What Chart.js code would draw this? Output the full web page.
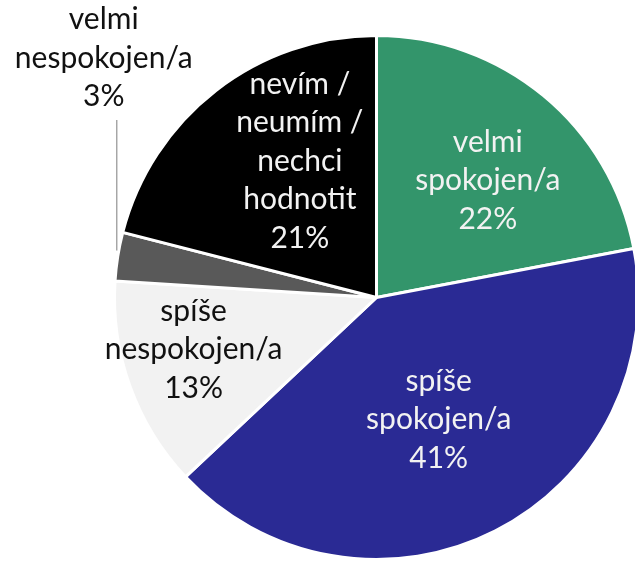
<!DOCTYPE html>
<html>
<head>
<meta charset="utf-8">
<script src="https://cdn.jsdelivr.net/npm/chart.js@4.4.0/dist/chart.umd.min.js"></script>
<style>
  html, body { margin: 0; padding: 0; background: #ffffff; overflow: hidden; }
  #wrap { position: relative; width: 645px; height: 561px; }
</style>
</head>
<body>
<div id="wrap"><canvas id="c" width="645" height="561"></canvas></div>
<script>
// Spokojenost respondentů (podíl odpovědí v %)
const categories = [
  ['velmi', 'spokojen/a'],
  ['spíše', 'spokojen/a'],
  ['spíše', 'nespokojen/a'],
  ['velmi', 'nespokojen/a'],
  ['nevím /', 'neumím /', 'nechci', 'hodnotit']
];
const shares = [22, 41, 13, 3, 21];

const sliceColors = ['#33956b', '#2a2a94', '#f2f2f2', '#595959', '#000000'];
const labelColors = ['#f2f2f2', '#f2f2f2', '#111111', '#111111', '#f2f2f2'];
// label anchor inside each slice: fraction of radius, angular nudge (deg)
const labelRadius = [0.616, 0.523, 0.726, 0, 0.598];
const labelNudge = [4, 0, 3.9, 0, 8.5];
const outsideLabel = [false, false, false, true, false];

const FONT = '30px Lato';
const LINE_H = 38.5;

const labelPlugin = {
  id: 'sliceLabels',
  afterDatasetsDraw(chart) {
    const ctx = chart.ctx;
    const meta = chart.getDatasetMeta(0);
    ctx.save();
    ctx.font = FONT;
    ctx.textAlign = 'center';
    ctx.textBaseline = 'middle';
    meta.data.forEach((arc, i) => {
      const lines = categories[i].concat([shares[i] + '%']);
      const mid = (arc.startAngle + arc.endAngle) / 2;
      const R = arc.outerRadius;
      let cx, cy;
      if (outsideLabel[i]) {
        // leader line going straight up from the slice edge
        const ex = arc.x + Math.cos(mid) * R;
        const ey = arc.y + Math.sin(mid) * R;
        const lx = ex - 1;
        const bottom = ey - 6;
        const top = 120;
        ctx.strokeStyle = '#a6a6a6';
        ctx.lineWidth = 1.5;
        ctx.beginPath();
        ctx.moveTo(lx, bottom);
        ctx.lineTo(lx, top);
        ctx.stroke();
        cx = lx - 13;
        cy = top - 62;
      } else {
        const a = mid + labelNudge[i] * Math.PI / 180;
        cx = arc.x + Math.cos(a) * R * labelRadius[i];
        cy = arc.y + Math.sin(a) * R * labelRadius[i];
      }
      ctx.fillStyle = labelColors[i];
      const y0 = cy - (lines.length - 1) * LINE_H / 2;
      lines.forEach((t, k) => ctx.fillText(t, cx, y0 + k * LINE_H));
    });
    ctx.restore();
  }
};

new Chart(document.getElementById('c'), {
  type: 'pie',
  data: {
    labels: categories.map(c => c.join(' ')),
    datasets: [{
      data: shares,
      backgroundColor: sliceColors,
      borderColor: '#ffffff',
      borderWidth: 3
    }]
  },
  options: {
    responsive: false,
    animation: false,
    layout: { padding: { left: 113, right: 5, top: 34, bottom: 0 } },
    plugins: {
      legend: { display: false },
      tooltip: { enabled: false }
    }
  },
  plugins: [labelPlugin]
});
</script>
</body>
</html>
